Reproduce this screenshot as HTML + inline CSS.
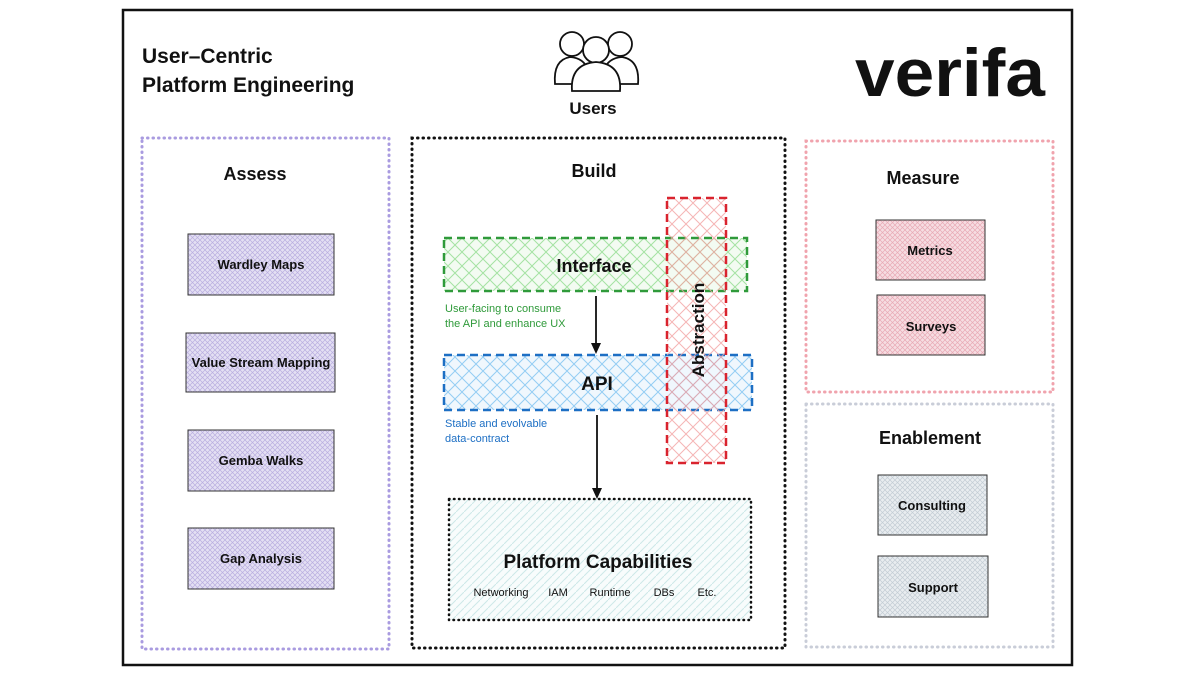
<!DOCTYPE html>
<html><head><meta charset="utf-8"><style>
html,body{margin:0;padding:0;background:#fff;width:1200px;height:674px;overflow:hidden}
svg{display:block}
.b{font-family:"Liberation Sans",sans-serif;font-weight:bold;fill:#111}
.n{font-family:"Liberation Sans",sans-serif;}
</style></head><body>
<svg width="1200" height="674" viewBox="0 0 1200 674" xmlns="http://www.w3.org/2000/svg">
<defs>
<pattern id="pp" width="5" height="5" patternUnits="userSpaceOnUse"><rect width="5" height="5" fill="#e4e0f3"/><path d="M0 5L5 0M0 0L5 5" stroke="#b9aee0" stroke-width="0.7"/></pattern>
<pattern id="pk" width="5" height="5" patternUnits="userSpaceOnUse"><rect width="5" height="5" fill="#f6dde2"/><path d="M0 5L5 0M0 0L5 5" stroke="#e8a9b5" stroke-width="0.7"/></pattern>
<pattern id="gy" width="5" height="5" patternUnits="userSpaceOnUse"><rect width="5" height="5" fill="#e9edf0"/><path d="M0 5L5 0M0 0L5 5" stroke="#c3ccd4" stroke-width="0.7"/></pattern>
<pattern id="gr" width="14" height="14" patternUnits="userSpaceOnUse"><rect width="14" height="14" fill="#f3fbf2"/><path d="M0 14L14 0M0 0L14 14" stroke="#a5e3a3" stroke-width="1"/></pattern>
<pattern id="bl" width="14" height="14" patternUnits="userSpaceOnUse"><rect width="14" height="14" fill="#f0f7fd"/><path d="M0 14L14 0M0 0L14 14" stroke="#94cdf3" stroke-width="1"/></pattern>
<pattern id="rd" width="14" height="14" patternUnits="userSpaceOnUse"><path d="M0 14L14 0M0 0L14 14" stroke="#f3a3a3" stroke-width="1"/></pattern>
<pattern id="tl" width="8" height="8" patternUnits="userSpaceOnUse"><rect width="8" height="8" fill="#f8fcfc"/><path d="M0 8L8 0" stroke="#cde8e8" stroke-width="1"/></pattern>
</defs>
<rect x="123" y="10" width="949" height="655" fill="none" stroke="#111" stroke-width="2.5"/>
<text class="b" x="142" y="63" font-size="21">User–Centric</text>
<text class="b" x="142" y="92" font-size="21">Platform Engineering</text>
<!-- users -->
<g fill="#fff" stroke="#111" stroke-width="1.8">
<circle cx="572" cy="44" r="12"/><path d="M555 84 Q553 60 570 57 Q584 58 588 70 L588 84Z"/>
<circle cx="620" cy="44" r="12"/><path d="M638 84 Q640 60 622 57 Q608 58 604 70 L604 84Z"/>
<circle cx="596" cy="50" r="13"/><path d="M572 91 Q570 64 596 62 Q622 64 620 91Z"/>
</g>
<text class="b" x="593" y="114" font-size="17" text-anchor="middle">Users</text>
<text class="b" x="855" y="96" font-size="68" textLength="190" lengthAdjust="spacingAndGlyphs" fill="#111">verifa</text>
<!-- Assess -->
<rect x="142" y="138" width="247" height="511" fill="none" stroke="#a99be0" stroke-width="3" stroke-dasharray="0.5 5" stroke-linecap="round"/>
<text class="b" x="255" y="180" font-size="18" text-anchor="middle">Assess</text>
<g stroke="#333" stroke-width="1">
<rect x="188" y="234" width="146" height="61" fill="url(#pp)"/>
<rect x="186" y="333" width="149" height="59" fill="url(#pp)"/>
<rect x="188" y="430" width="146" height="61" fill="url(#pp)"/>
<rect x="188" y="528" width="146" height="61" fill="url(#pp)"/>
</g>
<g class="b" font-size="13" text-anchor="middle">
<text x="261" y="269">Wardley Maps</text>
<text x="261" y="367">Value Stream Mapping</text>
<text x="261" y="465">Gemba Walks</text>
<text x="261" y="563">Gap Analysis</text>
</g>
<!-- Build -->
<rect x="412" y="138" width="373" height="510" fill="none" stroke="#111" stroke-width="3" stroke-dasharray="0.5 5" stroke-linecap="round"/>
<text class="b" x="594" y="177" font-size="18" text-anchor="middle">Build</text>
<rect x="444" y="238" width="303" height="53" fill="url(#gr)" stroke="#2f9a3a" stroke-width="2.5" stroke-dasharray="8 5"/>
<rect x="444" y="355" width="308" height="55" fill="url(#bl)" stroke="#1d6fc4" stroke-width="2.5" stroke-dasharray="8 5"/>
<rect x="667" y="198" width="59" height="265" fill="url(#rd)" fill-opacity="0.8" stroke="#d9232e" stroke-width="2.5" stroke-dasharray="8 5"/>
<text class="b" x="594" y="272" font-size="18" text-anchor="middle">Interface</text>
<text class="b" x="597" y="390" font-size="19" text-anchor="middle">API</text>
<text class="b" font-size="17" transform="translate(704,330) rotate(-90)" text-anchor="middle">Abstraction</text>
<text class="n" x="445" y="312" font-size="11" fill="#2f9a3a">User-facing to consume</text>
<text class="n" x="445" y="327" font-size="11" fill="#2f9a3a">the API and enhance UX</text>
<text class="n" x="445" y="427" font-size="11" fill="#1d6fc4">Stable and evolvable</text>
<text class="n" x="445" y="442" font-size="11" fill="#1d6fc4">data-contract</text>
<path d="M596 296 L596 345" stroke="#111" stroke-width="1.8"/><path d="M591 343 L596 354 L601 343Z" fill="#111"/>
<path d="M597 415 L597 490" stroke="#111" stroke-width="1.8"/><path d="M592 488 L597 499 L602 488Z" fill="#111"/>
<rect x="449" y="499" width="302" height="121" fill="url(#tl)" stroke="#111" stroke-width="2.5" stroke-dasharray="0.5 4.5" stroke-linecap="round"/>
<text class="b" x="598" y="568" font-size="19" text-anchor="middle">Platform Capabilities</text>
<g class="n" font-size="11" fill="#111" text-anchor="middle">
<text x="501" y="596">Networking</text><text x="558" y="596">IAM</text><text x="610" y="596">Runtime</text><text x="664" y="596">DBs</text><text x="707" y="596">Etc.</text>
</g>
<!-- Measure -->
<rect x="806" y="141" width="247" height="251" fill="none" stroke="#f0a3ad" stroke-width="3" stroke-dasharray="0.5 5" stroke-linecap="round"/>
<text class="b" x="923" y="184" font-size="18" text-anchor="middle">Measure</text>
<rect x="876" y="220" width="109" height="60" fill="url(#pk)" stroke="#333"/>
<rect x="877" y="295" width="108" height="60" fill="url(#pk)" stroke="#333"/>
<text class="b" x="930" y="255" font-size="13" text-anchor="middle">Metrics</text>
<text class="b" x="931" y="331" font-size="13" text-anchor="middle">Surveys</text>
<!-- Enablement -->
<rect x="806" y="404" width="247" height="243" fill="none" stroke="#c9cdd8" stroke-width="3" stroke-dasharray="0.5 5" stroke-linecap="round"/>
<text class="b" x="930" y="444" font-size="18" text-anchor="middle">Enablement</text>
<rect x="878" y="475" width="109" height="60" fill="url(#gy)" stroke="#333"/>
<rect x="878" y="556" width="110" height="61" fill="url(#gy)" stroke="#333"/>
<text class="b" x="932" y="510" font-size="13" text-anchor="middle">Consulting</text>
<text class="b" x="933" y="592" font-size="13" text-anchor="middle">Support</text>
</svg>
</body></html>
